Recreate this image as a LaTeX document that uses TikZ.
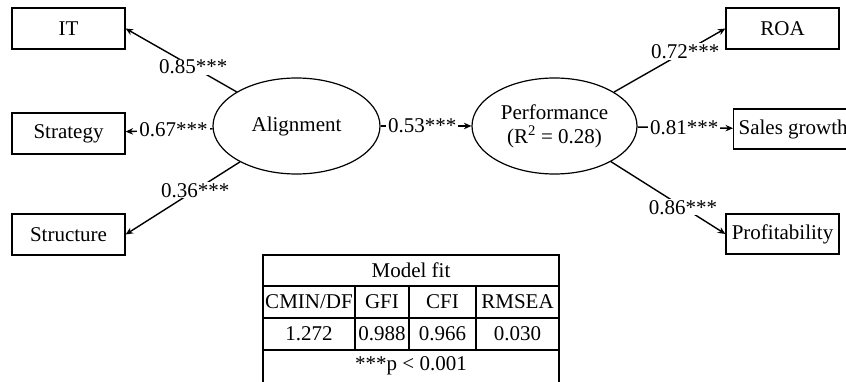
\documentclass[tikz,border=0pt]{standalone}
\usepackage{fontspec}
\setmainfont{Liberation Serif}
\usetikzlibrary{shapes.geometric,arrows.meta}

\begin{document}
\begin{tikzpicture}[x=1pt,y=-1pt,line width=1.4pt,
  font=\fontsize{21}{24}\selectfont,
  >={Stealth[length=7.5pt,width=6.5pt]},
  obs/.style={draw,line width=1.2pt,minimum width=113pt,minimum height=41pt,inner sep=0pt},
  latent/.style={draw,line width=1.2pt,ellipse,minimum width=167pt,minimum height=96pt,inner sep=0pt,align=center},
  coef/.style={fill=white,inner xsep=2pt,inner ysep=1pt}]
\clip (0,0) rectangle (846,382);
\node[obs] (it) at (68.5,28.5) {IT};
\node[obs] (strat) at (68.5,133.5) {Strategy};
\node[obs] (struct) at (68.5,234.5) {Structure};
\node[latent] (align) at (296.5,126) {Alignment};
\node[latent,minimum width=165pt] (perf) at (554.5,126) {Performance\\(R\textsuperscript{2} = 0.28)};
\node[obs] (roa) at (782.5,28.5) {ROA};
\node[obs,anchor=west,minimum width=0pt,inner xsep=5pt,minimum height=40pt] (sales) at (733,129) {Sales growth};
\node[obs,minimum height=40pt] (profit) at (782.5,234) {Profitability};
\draw[->] (align) -- node[coef,pos=0.39] {0.85***} (it.east);
\draw[->] (align) -- node[coef,pos=0.45] {0.67***} (strat);
\draw[->] (align) -- node[coef,pos=0.39] {0.36***} (struct.east);
\draw[->] (align) -- node[coef,pos=0.46] {0.53***} (perf);
\draw[->] (perf) -- node[coef,pos=0.64] {0.72***} (roa.west);
\draw[->] (perf) -- node[coef,pos=0.49] {0.81***} (sales);
\draw[->] (perf) -- node[coef,pos=0.63] {0.86***} (profit.west);
\draw[line width=1.2pt] (263,382) -- (263,255) -- (559,255) -- (559,382);
\foreach \y in {286,318,350} \draw[line width=1.2pt] (263,\y) -- (559,\y);
\foreach \x in {355,409,476} \draw[line width=1.2pt] (\x,286) -- (\x,350);
\node (fit) at (411,270.5) {Model fit};
\node (cmin) at (309,302) {CMIN/DF};
\node (gfi) at (382,302) {GFI};
\node (cfi) at (442.5,302) {CFI};
\node (rmsea) at (517.5,302) {RMSEA};
\node (cminval) at (309,334) {1.272};
\node (gfival) at (382,334) {0.988};
\node (cfival) at (442.5,334) {0.966};
\node (rmseaval) at (517.5,334) {0.030};
\node (note) at (411,366) {***p < 0.001};
\end{tikzpicture}
\end{document}
